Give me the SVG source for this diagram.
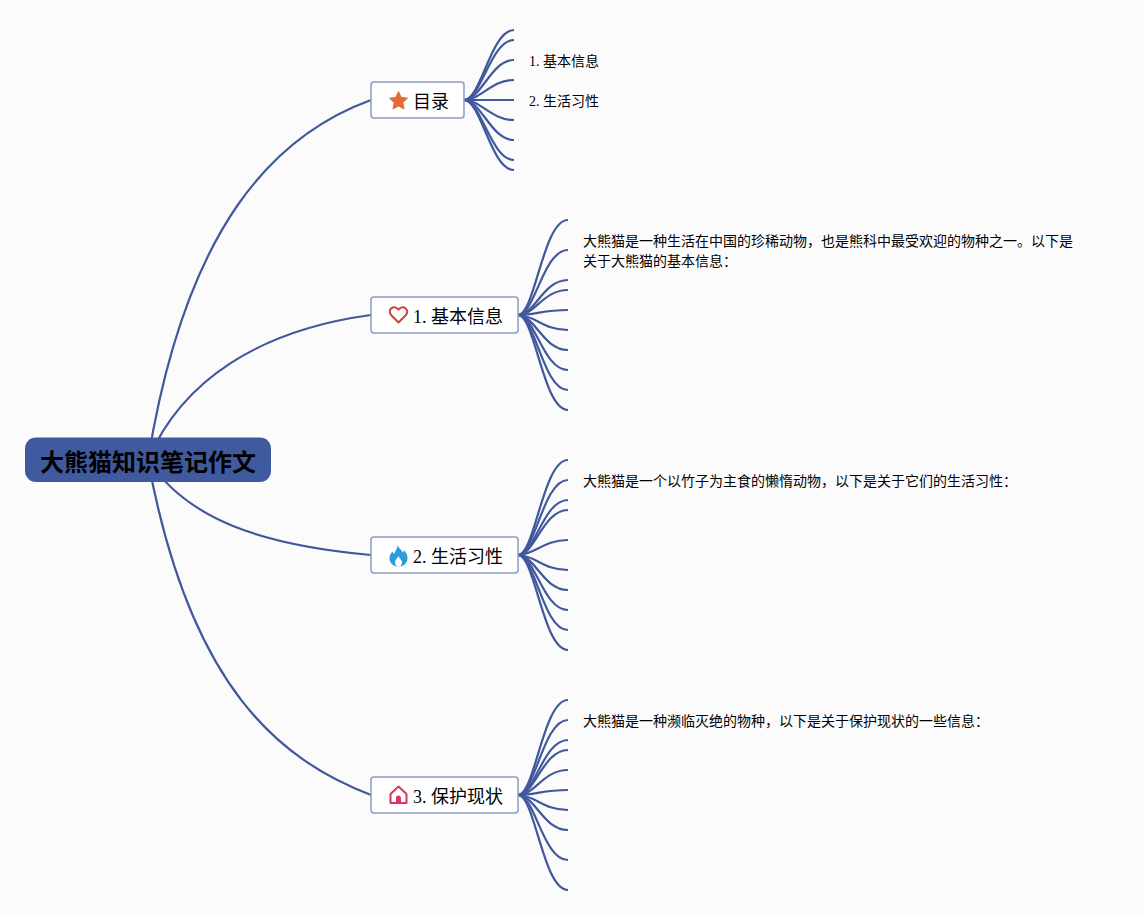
<svg xmlns="http://www.w3.org/2000/svg" width="1143" height="915" viewBox="0 0 1143 915">
<style>
text{font-family:"Liberation Serif","Noto Sans CJK SC",serif;fill:#000}
.t{font-size:18px}
.l{font-size:14px}
.r{font-size:24px;font-weight:700;font-family:"Noto Sans CJK SC","Liberation Sans",sans-serif;text-anchor:middle}
.b{fill:#fff;stroke:#8d9cc4;stroke-width:1.5}
#connectors path{fill:none;stroke:#41599c;stroke-width:2.200}
</style>
<rect width="1143" height="915" fill="#fbfbfc"/>
<g id="connectors">
<path d="M148 460C186 225 275 135 371 100"/>
<path d="M148 460C182 380 260 330 371 315"/>
<path d="M148 460C188 520 262 545 371 555"/>
<path d="M148 460C190 688 280 760 371 795"/>
<path d="M464 100C481 100 491 30 514 30"/>
<path d="M464 100C481 100 491 40 514 40"/>
<path d="M464 100C481 100 491 60 514 60"/>
<path d="M464 100C481 100 491 80 514 80"/>
<path d="M464 100H514"/>
<path d="M464 100C481 100 491 120 514 120"/>
<path d="M464 100C481 100 491 140 514 140"/>
<path d="M464 100C481 100 491 160 514 160"/>
<path d="M464 100C481 100 491 170 514 170"/>
<path d="M518 315C535 315 543 220 568 220"/>
<path d="M518 315C535 315 543 250 568 250"/>
<path d="M518 315C535 315 543 280 568 280"/>
<path d="M518 315C535 315 543 290 568 290"/>
<path d="M518 315C535 315 543 310 568 310"/>
<path d="M518 315C535 315 543 330 568 330"/>
<path d="M518 315C535 315 543 350 568 350"/>
<path d="M518 315C535 315 543 370 568 370"/>
<path d="M518 315C535 315 543 390 568 390"/>
<path d="M518 315C535 315 543 410 568 410"/>
<path d="M518 555C535 555 543 460 568 460"/>
<path d="M518 555C535 555 543 480 568 480"/>
<path d="M518 555C535 555 543 500 568 500"/>
<path d="M518 555C535 555 543 510 568 510"/>
<path d="M518 555C535 555 543 540 568 540"/>
<path d="M518 555C535 555 543 570 568 570"/>
<path d="M518 555C535 555 543 590 568 590"/>
<path d="M518 555C535 555 543 610 568 610"/>
<path d="M518 555C535 555 543 630 568 630"/>
<path d="M518 555C535 555 543 650 568 650"/>
<path d="M518 795C535 795 543 700 568 700"/>
<path d="M518 795C535 795 543 720 568 720"/>
<path d="M518 795C535 795 543 740 568 740"/>
<path d="M518 795C535 795 543 750 568 750"/>
<path d="M518 795C535 795 543 770 568 770"/>
<path d="M518 795C535 795 543 790 568 790"/>
<path d="M518 795C535 795 543 810 568 810"/>
<path d="M518 795C535 795 543 830 568 830"/>
<path d="M518 795C535 795 543 860 568 860"/>
<path d="M518 795C535 795 543 890 568 890"/>
</g>
<g id="root">
<rect x="25" y="437.500" width="246" height="44.500" rx="11" fill="#3f5a9e"/>
<text class="r" x="148" y="471">大熊猫知识笔记作文</text>
</g>
<g id="node-toc">
<rect class="b" x="371" y="82" width="93" height="36" rx="3"/>
<path d="M398.500 91.500l2.700 5.900 6.300.8-4.700 4.400 1.200 6.400-5.500-3.100-5.500 3.100 1.200-6.400-4.700-4.400 6.300-.8z" fill="#e56a35" stroke="#e56a35" stroke-linejoin="round"/>
<text class="t" x="413" y="108">目录</text>
</g>
<g id="leaf-toc-1"><text class="l" x="529" y="66">1. 基本信息</text></g>
<g id="leaf-toc-2"><text class="l" x="529" y="106">2. 生活习性</text></g>
<g id="node-basic">
<rect class="b" x="371" y="297" width="147" height="36" rx="3"/>
<path d="M398.500 322.500l-7-7c-2.300-2.400-2.300-5.400-.2-7.100 2.200-1.800 5.200-1.200 7.200 1.200 2-2.400 5-3 7.200-1.200 2.100 1.700 2.100 4.700-.2 7.100z" fill="none" stroke="#c9463a" stroke-width="2" stroke-linejoin="round"/>
<text class="t" x="413" y="323">1. 基本信息</text>
</g>
<g id="leaf-basic"><text class="l" x="583" y="246">大熊猫是一种生活在中国的珍稀动物，也是熊科中最受欢迎的物种之一。以下是</text><text class="l" x="583" y="266">关于大熊猫的基本信息：</text></g>
<g id="node-habit">
<rect class="b" x="371" y="537" width="147" height="36" rx="3"/>
<path d="M397.500 545c1.500 3.500 3.500 4.500 5.500 7.500 .5-.5 1-1.500 1-2.500 2 2.500 3.500 5 3.500 8 0 5-4 8.500-9 8.500s-9-3.500-9-8.500c0-3 1.500-5 3-6.500 .5 1.500 1 2 1.500 2.500 1-3 3.500-5 3.500-9z" fill="#2a9bdc"/>
<path d="M398.500 556c.5 2 3.500 3.500 3.500 6.500 0 2.200-1.500 4-3.500 4s-3.500-1.800-3.500-4c0-3 2.500-4 3.500-6.500z" fill="#fff"/>
<text class="t" x="413" y="563">2. 生活习性</text>
</g>
<g id="leaf-habit"><text class="l" x="583" y="486">大熊猫是一个以竹子为主食的懒惰动物，以下是关于它们的生活习性：</text></g>
<g id="node-protect">
<rect class="b" x="371" y="777" width="147" height="36" rx="3"/>
<path d="M390.500 794l8-7.500 8 7.500v9h-16z" fill="none" stroke="#d6375f" stroke-width="2" stroke-linejoin="round"/>
<path d="M396 803v-5a2.500 2.500 0 0 1 5 0v5z" fill="#d6375f"/>
<text class="t" x="413" y="803">3. 保护现状</text>
</g>
<g id="leaf-protect"><text class="l" x="583" y="726">大熊猫是一种濒临灭绝的物种，以下是关于保护现状的一些信息：</text></g>
</svg>
